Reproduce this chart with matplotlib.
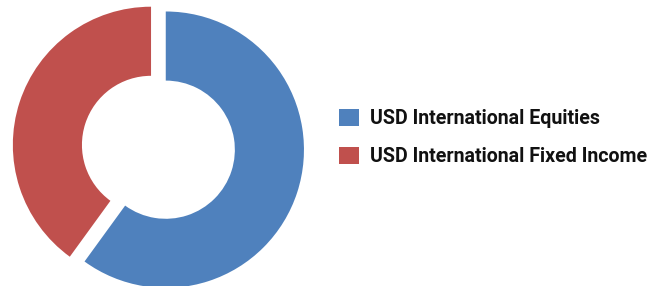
import matplotlib
matplotlib.use("Agg")
import matplotlib.pyplot as plt

# allocation data
labels = ["USD International Equities", "USD International Fixed Income"]
shares = [60, 40]
colors = ["#4F81BD", "#C0504D"]
explode = [0.056, 0.056]

W, H, DPI = 662, 286, 100
fig = plt.figure(figsize=(W / DPI, H / DPI), dpi=DPI)

# donut placement in pixels (centre, outer radius)
cx, cy, R = 158.4, 147.3, 138.2
half_w = 150.0
ax = fig.add_axes([(cx - half_w) / W, 0, 2 * half_w / W, 1])

wedges, _ = ax.pie(shares, colors=colors, startangle=90, counterclock=False,
                   explode=explode, radius=1.0,
                   wedgeprops=dict(width=0.5, linewidth=0))
ax.set_xlim(-half_w / R, half_w / R)
ax.set_ylim(-(H - cy) / R, cy / R)
ax.axis("off")

fs = 14.1
leg = fig.legend(wedges, labels, loc="center left",
                 bbox_to_anchor=(339 / W, 1 - 137.4 / H),
                 frameon=False, borderpad=0, borderaxespad=0,
                 handlelength=1.02, handleheight=1.0, handletextpad=0.55,
                 labelspacing=0.95,
                 prop=dict(family="Roboto", weight="bold", size=fs))
for t in leg.get_texts():
    t.set_color("#111111")

fig.savefig("out.png", dpi=DPI)
